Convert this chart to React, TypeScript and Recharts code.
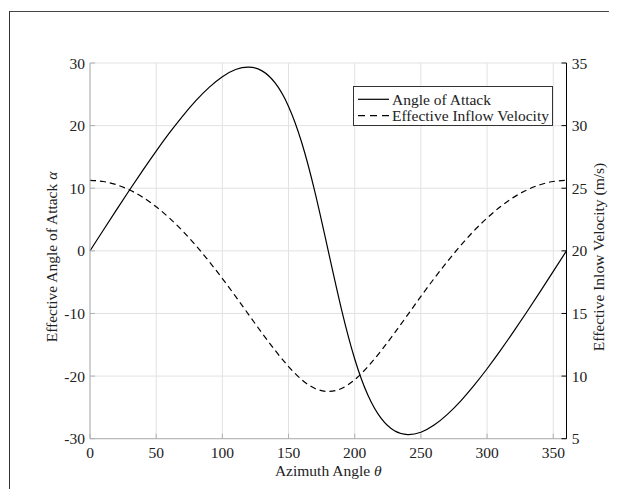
import { ComposedChart, Line, XAxis, YAxis, CartesianGrid } from "recharts";

const azimuth = [0, 10, 20, 30, 40, 50, 60, 70, 80, 90, 100, 110, 120, 130, 140, 150, 160, 170, 180, 190, 200, 210, 220, 230, 240, 250, 260, 270, 280, 290, 300, 310, 320, 330, 340, 350, 360];
const angleOfAttack = [0, 3.29, 6.55, 9.76, 12.9, 15.94, 18.83, 21.53, 23.99, 26.11, 27.82, 28.96, 29.35, 28.74, 26.77, 23.07, 17.27, 9.34, 0, -9.34, -17.27, -23.07, -26.77, -28.74, -29.35, -28.96, -27.82, -26.11, -23.99, -21.53, -18.83, -15.94, -12.9, -9.76, -6.55, -3.29, 0];
const inflowVelocity = [25.63, 25.54, 25.28, 24.86, 24.27, 23.52, 22.62, 21.59, 20.42, 19.15, 17.79, 16.36, 14.89, 13.43, 12.03, 10.76, 9.71, 9.01, 8.77, 9.01, 9.71, 10.76, 12.03, 13.43, 14.89, 16.36, 17.79, 19.15, 20.42, 21.59, 22.62, 23.52, 24.27, 24.86, 25.28, 25.54, 25.63];

const xTicks = [0, 50, 100, 150, 200, 250, 300, 350];
const leftTicks = [-30, -20, -10, 0, 10, 20, 30];
const rightTicks = [5, 10, 15, 20, 25, 30, 35];

const data = azimuth.map((theta, i) => ({
  theta,
  alpha: angleOfAttack[i],
  velocity: inflowVelocity[i],
}));

const FONT = '"Liberation Serif", "Times New Roman", serif';
const FS = 15.5;
const TXT = "#222";

function XLabel({ viewBox }: any) {
  const cx = viewBox.x + viewBox.width / 2;
  return (
    <text x={cx} y={468} textAnchor="middle" fontFamily={FONT} fontSize={FS} fill={TXT}>
      Azimuth Angle <tspan fontStyle="italic">θ</tspan>
    </text>
  );
}

function LeftLabel() {
  const cy = 249;
  const x = 49;
  return (
    <text x={x} y={cy} transform={`rotate(-90, ${x}, ${cy})`} textAnchor="middle" fontFamily={FONT} fontSize={FS} fill={TXT}>
      Effective Angle of Attack <tspan fontStyle="italic">α</tspan>
    </text>
  );
}

function RightLabel() {
  const cy = 249;
  const x = 596;
  return (
    <text x={x} y={cy} transform={`rotate(-90, ${x}, ${cy})`} textAnchor="middle" fontFamily={FONT} fontSize={FS} fill={TXT}>
      Effective Inlow Velocity (m/s)
    </text>
  );
}

// legend box overlaid on the plot, like the matlab one
function LegendBox() {
  return (
    <svg width={200} height={40} style={{ position: "absolute", left: 344.7, top: 78, display: "block" }}>
      <rect x={0.5} y={0.5} width={199} height={39} fill="#fff" stroke="#333" strokeWidth={1} />
      <line x1={5} x2={36} y1={13.3} y2={13.3} stroke="#000" strokeWidth={1.2} />
      <line x1={5} x2={36} y1={29.7} y2={29.7} stroke="#000" strokeWidth={1.2} strokeDasharray="7 5" />
      <text x={39} y={13.3} dy="0.35em" fontFamily={FONT} fontSize={FS} fill={TXT}>Angle of Attack</text>
      <text x={39} y={29.7} dy="0.35em" fontFamily={FONT} fontSize={FS} fill={TXT}>Effective Inflow Velocity</text>
    </svg>
  );
}

export default function App() {
  const tickStyle = { fontFamily: FONT, fontSize: FS, fill: TXT };
  return (
    <div style={{ position: "relative", width: 601, height: 481 }}>
      <div
        style={{
          position: "absolute",
          left: 1,
          top: 3,
          width: 608,
          height: 486,
          boxSizing: "border-box",
          borderLeft: "1px solid #333",
          borderTop: "1px solid #444",
        }}
      />
      <ComposedChart width={601} height={481} data={data} margin={{ top: 55, right: 0, bottom: 10.3, left: 0 }}>
        <CartesianGrid yAxisId="left" stroke="#e2e2e2" strokeWidth={1} />
        <XAxis
          dataKey="theta"
          type="number"
          domain={[0, 360]}
          ticks={xTicks}
          height={40}
          tick={tickStyle}
          tickSize={-5}
          tickMargin={13.6}
          stroke="#b0b0b0"
          tickLine={{ stroke: "#b0b0b0" }}
          label={<XLabel />}
        />
        <YAxis
          yAxisId="left"
          orientation="left"
          domain={[-30, 30]}
          ticks={leftTicks}
          width={82}
          tick={tickStyle}
          tickSize={-5}
          tickMargin={10}
          stroke="#b0b0b0"
          tickLine={{ stroke: "#b0b0b0" }}
          label={<LeftLabel />}
        />
        <YAxis
          yAxisId="right"
          orientation="right"
          domain={[5, 35]}
          ticks={rightTicks}
          width={42.5}
          tick={tickStyle}
          tickSize={-5}
          tickMargin={10.2}
          stroke="#000"
          tickLine={{ stroke: "#000" }}
          label={<RightLabel />}
        />
        <Line
          yAxisId="left"
          type="natural"
          dataKey="alpha"
          name="Angle of Attack"
          stroke="#000"
          strokeWidth={1.2}
          dot={false}
          isAnimationActive={false}
        />
        <Line
          yAxisId="right"
          type="natural"
          dataKey="velocity"
          name="Effective Inflow Velocity"
          stroke="#000"
          strokeWidth={1.2}
          strokeDasharray="6 4"
          dot={false}
          isAnimationActive={false}
        />
      </ComposedChart>
      <LegendBox />
    </div>
  );
}
